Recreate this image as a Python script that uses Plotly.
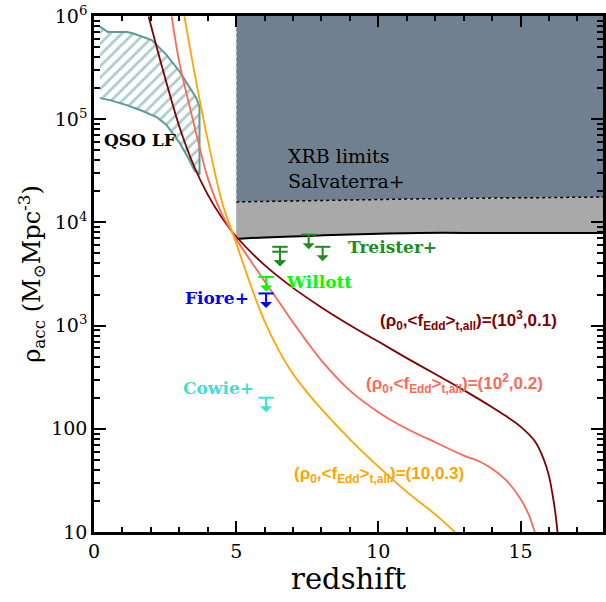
import numpy as np
import plotly.graph_objects as go

# ---- model curves: accreted mass density vs redshift ----
z_dark = [1.92, 2.4, 3.0, 3.5, 4.0, 4.5, 5.0, 6.0, 7.0, 8.0, 9.0, 10.0, 11.0, 12.0, 13.0,
          14.0, 14.5, 15.0, 15.5, 15.8, 16.0, 16.15, 16.25, 16.3]
rho_dark = [9.9e5, 3.16e5, 8.5e4, 3.6e4, 1.86e4, 1.11e4, 7.3e3, 3.85e3, 2.32e3, 1.5e3,
            1.01e3, 700, 484, 339, 237, 162, 132, 105, 76, 52, 35, 21, 13.5, 10]

z_salmon = [2.73, 3.0, 3.5, 4.0, 4.5, 5.0, 5.5, 6.0, 6.5, 7.0, 7.5, 8.0, 9.0, 10.0, 11.0,
            12.0, 13.0, 13.5, 14.0, 14.5, 15.0, 15.3, 15.5]
rho_salmon = [9.9e5, 3.55e5, 9.3e4, 2.7e4, 1.2e4, 6.9e3, 4.27e3, 2.69e3, 1.7e3, 1.07e3,
              692, 457, 234, 145, 100, 74, 55, 49, 41, 31.6, 20.9, 14.5, 10]

z_orange = [3.18, 3.5, 4.0, 4.5, 5.0, 5.5, 6.0, 6.5, 7.0, 7.5, 8.0, 9.0, 10.0, 11.0, 12.0,
            12.69]
rho_orange = [9.9e5, 3.16e5, 6.3e4, 1.58e4, 6.3e3, 2.5e3, 1.1e3, 575, 339, 224, 155, 79,
              43, 24.5, 14.8, 10]

# ---- QSO luminosity function constraint (closed outline) ----
qso_z = [0.21, 0.49, 1.15, 1.36, 2.03, 2.55, 3.01, 3.36, 3.60, 3.71, 3.71,
         3.53, 3.36, 3.01, 2.76, 2.55, 2.20, 1.71, 1.15, 0.56, 0.21]
qso_rho = [7.9e5, 7.0e5, 7.0e5, 6.8e5, 5.85e5, 4.2e5, 2.9e5, 2.07e5, 1.6e5, 1.32e5, 2.9e4,
           3.2e4, 4.0e4, 5.9e4, 7.3e4, 8.8e4, 1.05e5, 1.2e5, 1.37e5, 1.53e5, 1.6e5]

# ---- X-ray background limits (Salvaterra+) ----
xrb_z = [5.0, 6.0, 7.55, 9.0, 11.4, 14.0, 17.9]
xrb_lower = [6900, 7150, 7400, 7650, 7900, 7900, 7900]
xrb_upper = [15800, 16000, 16300, 16500, 16900, 17200, 17600]
rho_ceiling = 1e6

# ---- upper limits from stacking / surveys ----
treister_z = [6.54, 6.54, 7.55, 8.04]
treister_rho = [5800, 5200, 7600, 5800]
willott_z = [6.05]
willott_rho = [2960]
fiore_z = [6.05]
fiore_rho = [2050]
cowie_z = [6.05]
cowie_rho = [200]

# ---- axis ticks ----
x_major = [0, 5, 10, 15]
x_labels = ["0", "5", "10", "15"]
y_major = [10, 100, 1e3, 1e4, 1e5, 1e6]
y_labels = ["10", "100", "10<sup>3</sup>", "10<sup>4</sup>", "10<sup>5</sup>", "10<sup>6</sup>"]
y_minor = [k * 10 ** e for e in range(1, 6) for k in range(2, 10)]

DARK = "#800000"
SALMON = "#FA6A55"
ORANGE = "#FFA500"
TEAL = "#5A9C9A"
SERIF = "DejaVu Serif"
SANS = "Liberation Sans"

PLOT_H = 516          # plot-area height in px
Y_DECADES = 5         # log range 10 .. 1e6
PX_PER_DEX = PLOT_H / Y_DECADES
ARROW_PX = 16         # length of an upper-limit arrow below its bar

fig = go.Figure()

# grey band between the two XRB bounds
fig.add_trace(go.Scatter(
    x=xrb_z + xrb_z[::-1], y=xrb_lower + xrb_upper[::-1],
    fill="toself", fillcolor="#A9A9A9", line=dict(width=0),
    mode="lines", hoverinfo="skip", showlegend=False))
# excluded region above the upper XRB bound
fig.add_trace(go.Scatter(
    x=xrb_z + xrb_z[::-1], y=xrb_upper + [rho_ceiling] * len(xrb_z),
    fill="toself", fillcolor="#708090", line=dict(width=0),
    mode="lines", hoverinfo="skip", showlegend=False))
fig.add_trace(go.Scatter(
    x=xrb_z, y=xrb_upper, mode="lines",
    line=dict(color="black", width=1.5, dash="dot"), showlegend=False))
fig.add_trace(go.Scatter(
    x=[xrb_z[0], xrb_z[0]], y=[xrb_upper[0], rho_ceiling], mode="lines",
    line=dict(color="#E0E0E0", width=1, dash="dot"), showlegend=False))
fig.add_trace(go.Scatter(
    x=xrb_z, y=xrb_lower, mode="lines", line_shape="spline",
    line=dict(color="black", width=2), showlegend=False))

# hatched QSO LF region
fig.add_trace(go.Scatter(
    x=qso_z, y=qso_rho, mode="lines", fill="toself",
    line=dict(color=TEAL, width=2),
    fillpattern=dict(shape="/", fgcolor=TEAL, bgcolor="white", size=8, solidity=0.35),
    showlegend=False))

# model tracks
for zs, rs, col in [(z_dark, rho_dark, DARK), (z_salmon, rho_salmon, SALMON),
                    (z_orange, rho_orange, ORANGE)]:
    fig.add_trace(go.Scatter(
        x=zs, y=rs, mode="lines", line_shape="spline",
        line=dict(color=col, width=1.8, smoothing=0.8), showlegend=False))

# upper-limit symbols: a bar at the value and a downward arrow;
# limits sharing a redshift share one arrow tip below the lowest bar
limits = [(treister_z, treister_rho, "#228B22"), (willott_z, willott_rho, "#00FF00"),
          (fiore_z, fiore_rho, "#0000FF"), (cowie_z, cowie_rho, "#40E0D0")]
for zs, rs, col in limits:
    fig.add_trace(go.Scatter(
        x=zs, y=rs, mode="markers",
        marker=dict(symbol="line-ew", size=11, line=dict(color=col, width=2)),
        showlegend=False))
    for zv, rv in zip(zs, rs):
        lowest = min(r for z, r in zip(zs, rs) if z == zv)
        extra = (np.log10(rv) - np.log10(lowest)) * PX_PER_DEX
        fig.add_annotation(
            x=zv, y=np.log10(rv), xref="x", yref="y", text="",
            showarrow=True, ax=0, ay=ARROW_PX + extra, arrowside="start",
            arrowhead=5, arrowsize=1.6, arrowwidth=2, arrowcolor=col,
            standoff=0, startstandoff=0)

def label(x, y, text, color, size, family=SERIF, xanchor="center", bold=False, align="center"):
    if bold:
        text = "<b>" + text + "</b>"
    fig.add_annotation(x=x, y=y, xref="x", yref="y", text=text, showarrow=False,
                       xanchor=xanchor, yanchor="middle", align=align,
                       font=dict(family=family, size=size, color=color))

label(1.61, 4.80, "QSO LF", "black", 17, bold=True)
label(6.75, 4.52, "XRB limits<br>Salvaterra+", "black", 19, xanchor="left", align="left")
label(8.85, 3.76, "Treister+", "#228B22", 17, xanchor="left", bold=True)
label(6.68, 3.42, "Willott", "#00FF00", 17, xanchor="left", bold=True)
label(5.52, 3.27, "Fiore+", "#0000FF", 17, xanchor="right", bold=True)
label(5.70, 2.40, "Cowie+", "#40E0D0", 17, xanchor="right", bold=True)

curve_lbl = "(ρ<sub>0</sub>,&lt;f<sub>Edd</sub>&gt;<sub>t,all</sub>)=(%s)"
label(13.18, 3.05, curve_lbl % "10<sup>3</sup>,0.1", DARK, 17, family=SANS, bold=True)
label(12.69, 2.44, curve_lbl % "10<sup>2</sup>,0.2", SALMON, 17, family=SANS, bold=True)
label(10.03, 1.55, curve_lbl % "10,0.3", ORANGE, 17, family=SANS, bold=True)

axis_common = dict(showgrid=False, zeroline=False, showline=True, linecolor="black",
                   linewidth=2.5, ticks="inside", tickwidth=2, tickcolor="black",
                   mirror="allticks",
                   tickfont=dict(family=SERIF, size=19, color="black"))
fig.update_xaxes(range=[0, 17.9], tickmode="array", tickvals=x_major, ticktext=x_labels,
                 ticklen=11,
                 title=dict(text="redshift", standoff=6,
                            font=dict(family=SERIF, size=29, color="black")),
                 minor=dict(dtick=1, tick0=0, ticks="inside", ticklen=5, tickwidth=1.5,
                            tickcolor="black", showgrid=False),
                 **axis_common)
fig.update_yaxes(type="log", range=[1, 6], tickmode="array", tickvals=y_major,
                 ticktext=y_labels, ticklen=12,
                 title=dict(text="ρ<sub>acc</sub> (M<sub>⊙</sub>Mpc<sup>-3</sup>)", standoff=4,
                            font=dict(family=SERIF, size=24, color="black")),
                 minor=dict(tickvals=y_minor, ticks="inside", ticklen=6, tickwidth=1.5,
                            tickcolor="black", showgrid=False),
                 **axis_common)

fig.update_layout(width=606, height=602, margin=dict(l=94, r=0, t=16, b=70),
                  plot_bgcolor="white", paper_bgcolor="white", showlegend=False)

fig.write_html("out.html")
